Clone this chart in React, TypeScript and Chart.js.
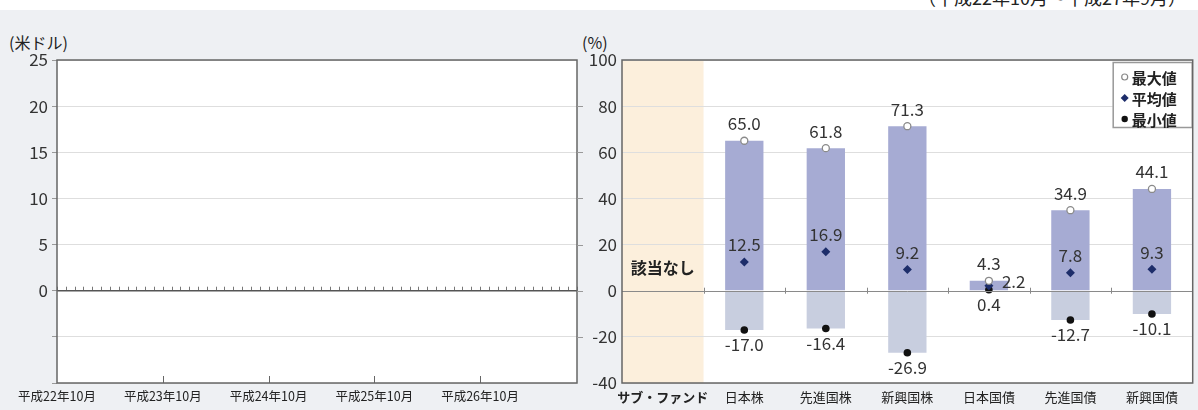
import React, { useEffect, useRef } from 'react';
import { Chart, registerables } from 'chart.js';
Chart.register(...registerables);

const FONT = '"Noto Sans CJK JP", "Noto Sans", sans-serif';

// ---- left chart (distribution, US$) ----
const leftStart = { year: 22, month: 10 };
const leftMonthCount = 60;
const leftTickLabels = ['平成22年10月', '平成23年10月', '平成24年10月', '平成25年10月', '平成26年10月'];
const leftMajorTickIdx = [12, 24, 36, 48];
const leftYMin = -10;
const leftYMax = 25;
const leftYStep = 5;

// ---- right chart (annual return range, %) ----
const categories = ['サブ・ファンド', '日本株', '先進国株', '新興国株', '日本国債', '先進国債', '新興国債'];
const maxVals: (number | null)[] = [null, 65.0, 61.8, 71.3, 4.3, 34.9, 44.1];
const avgVals: (number | null)[] = [null, 12.5, 16.9, 9.2, 2.2, 7.8, 9.3];
const minVals: (number | null)[] = [null, -17.0, -16.4, -26.9, 0.4, -12.7, -10.1];
const legendLabels = ['最大値', '平均値', '最小値'];
const noDataText = '該当なし';
const rightYMin = -40;
const rightYMax = 100;
const rightYStep = 20;

const periodText = '（平成22年10月～平成27年9月）';

function buildMonths(): string[] {
  const out: string[] = [];
  let y = leftStart.year;
  let m = leftStart.month;
  for (let i = 0; i < leftMonthCount; i++) {
    out.push(`平成${y}年${m}月`);
    m++;
    if (m > 12) { m = 1; y++; }
  }
  return out;
}

const COL_MAX_BORDER = '#8a8a8a';
const COL_AVG = '#1d2d6a';
const COL_MIN = '#111';

export default function App() {
  const leftRef = useRef<HTMLCanvasElement>(null);
  const rightRef = useRef<HTMLCanvasElement>(null);

  useEffect(() => {
    Chart.defaults.font.family = FONT;
    Chart.defaults.color = '#333';
    const months = buildMonths();

    const leftPlugin = {
      id: 'leftDeco',
      beforeDraw(chart: any) {
        const { ctx, chartArea: a } = chart;
        ctx.save();
        ctx.fillStyle = '#fff';
        ctx.fillRect(a.left, a.top, a.right - a.left, a.bottom - a.top);
        ctx.restore();
      },
      afterDraw(chart: any) {
        const { ctx, chartArea: a, scales } = chart;
        const x = scales.x, y = scales.y;
        ctx.save();
        const y0 = y.getPixelForValue(0);
        ctx.strokeStyle = '#777';
        ctx.lineWidth = 1;
        for (let i = 0; i < months.length; i++) {
          const px = Math.round(x.getPixelForValue(i)) + 0.5;
          ctx.beginPath();
          ctx.moveTo(px, y0 - 4);
          ctx.lineTo(px, y0);
          ctx.stroke();
        }
        ctx.strokeStyle = '#666';
        leftMajorTickIdx.forEach((i) => {
          const px = Math.round(x.getPixelForValue(i)) + 0.5;
          ctx.beginPath();
          ctx.moveTo(px, a.bottom);
          ctx.lineTo(px, a.bottom - 7);
          ctx.stroke();
        });
        ctx.strokeStyle = '#555';
        ctx.lineWidth = 1.5;
        ctx.beginPath();
        ctx.moveTo(a.left, y0);
        ctx.lineTo(a.right, y0);
        ctx.stroke();
        ctx.strokeStyle = '#666';
        ctx.lineWidth = 1.5;
        ctx.strokeRect(a.left, a.top, a.right - a.left, a.bottom - a.top);
        ctx.restore();
      },
    };

    const lc = new Chart(leftRef.current!, {
      type: 'line',
      data: { labels: months, datasets: [{ data: [], label: '' }] },
      options: {
        animation: false,
        responsive: false,
        layout: { padding: { top: 50, right: 8, left: 0, bottom: 0 } },
        plugins: { legend: { display: false }, tooltip: { enabled: false } },
        scales: {
          x: {
            type: 'category',
            offset: false,
            grid: { display: false, drawTicks: false },
            border: { display: false },
            ticks: {
              autoSkip: false,
              maxRotation: 0,
              minRotation: 0,
              padding: 6,
              font: { size: 12.5 },
              color: '#222',
              callback: (_v: any, i: number) => (leftTickLabels.includes(months[i]) ? months[i] : ''),
            },
            afterFit: (s: any) => { s.height = 27; },
          },
          y: {
            min: leftYMin,
            max: leftYMax,
            border: { display: false },
            grid: {
              color: (c: any) => (c.tick && c.tick.value === 0 ? 'rgba(0,0,0,0)' : '#dedede'),
              tickLength: 5,
              tickColor: '#999',
            },
            ticks: {
              stepSize: leftYStep,
              padding: 4,
              font: { size: 17 },
              color: '#333',
              callback: (v: any) => (Number(v) >= 0 ? String(v) : ''),
            },
            afterFit: (s: any) => { s.width = 57; },
          },
        },
      },
      plugins: [leftPlugin],
    } as any);

    const fmt = (v: number) => v.toFixed(1);

    const rightPlugin = {
      id: 'rightDeco',
      beforeDraw(chart: any) {
        const { ctx, chartArea: a, scales } = chart;
        const x = scales.x;
        ctx.save();
        ctx.fillStyle = '#fff';
        ctx.fillRect(a.left, a.top, a.right - a.left, a.bottom - a.top);
        const x1 = (x.getPixelForValue(0) + x.getPixelForValue(1)) / 2;
        ctx.fillStyle = '#fcefdc';
        ctx.fillRect(a.left, a.top, x1 - a.left, a.bottom - a.top);
        ctx.restore();
      },
      beforeDatasetsDraw(chart: any) {
        const { ctx, scales } = chart;
        const x = scales.x, y = scales.y;
        const y0 = y.getPixelForValue(0);
        ctx.save();
        ctx.strokeStyle = '#888';
        ctx.lineWidth = 1;
        for (let i = 0; i < categories.length - 1; i++) {
          const px = Math.round((x.getPixelForValue(i) + x.getPixelForValue(i + 1)) / 2) + 0.5;
          ctx.beginPath();
          ctx.moveTo(px, y0 - 3);
          ctx.lineTo(px, y0 + 3);
          ctx.stroke();
        }
        ctx.strokeStyle = '#999';
        for (let v = rightYMin + rightYStep; v < rightYMax; v += rightYStep) {
          const py = Math.round(y.getPixelForValue(v)) + 0.5;
          ctx.beginPath();
          ctx.moveTo(0, py);
          ctx.lineTo(6, py);
          ctx.stroke();
        }
        ctx.restore();
      },
      afterDatasetsDraw(chart: any) {
        const { ctx, chartArea: a, scales } = chart;
        const x = scales.x, y = scales.y;
        ctx.save();
        ctx.font = `bold 16px ${FONT}`;
        ctx.fillStyle = '#222';
        ctx.textAlign = 'center';
        ctx.textBaseline = 'middle';
        ctx.fillText(noDataText, x.getPixelForValue(0), y.getPixelForValue(10));
        const mMax = chart.getDatasetMeta(0);
        const mAvg = chart.getDatasetMeta(1);
        const mMin = chart.getDatasetMeta(2);
        ctx.font = `17px ${FONT}`;
        ctx.fillStyle = '#333';
        categories.forEach((_c, i) => {
          const mx = maxVals[i], av = avgVals[i], mn = minVals[i];
          if (mx == null || av == null || mn == null) return;
          const pMax = mMax.data[i], pAvg = mAvg.data[i], pMin = mMin.data[i];
          ctx.textAlign = 'center';
          ctx.fillText(fmt(mx), pMax.x, pMax.y - 17);
          if (mx - mn < 10) {
            ctx.textAlign = 'left';
            ctx.fillText(fmt(av), pAvg.x + 13, pAvg.y - 4);
            ctx.textAlign = 'center';
          } else {
            ctx.fillText(fmt(av), pAvg.x, pAvg.y - 17);
          }
          ctx.fillText(fmt(mn), pMin.x, pMin.y + 15);
        });
        const y0 = Math.round(y.getPixelForValue(0)) + 0.5;
        ctx.strokeStyle = '#8a8a8a';
        ctx.lineWidth = 1;
        ctx.beginPath();
        ctx.moveTo(a.left, y0);
        ctx.lineTo(a.right, y0);
        ctx.stroke();
        // legend
        const bw = 80, bh = 66;
        const bx = a.right - bw, by = a.top + 2;
        ctx.fillStyle = '#fff';
        ctx.fillRect(bx, by, bw, bh);
        ctx.strokeStyle = '#999';
        ctx.lineWidth = 1.5;
        ctx.strokeRect(bx + 0.5, by + 0.5, bw - 1, bh - 1);
        ctx.font = `bold 15px ${FONT}`;
        ctx.textAlign = 'left';
        legendLabels.forEach((lab, k) => {
          const ly = by + 15 + k * 21;
          const mx = bx + 12;
          ctx.beginPath();
          if (k === 0) {
            ctx.arc(mx, ly, 3, 0, Math.PI * 2);
            ctx.fillStyle = '#fff';
            ctx.fill();
            ctx.strokeStyle = COL_MAX_BORDER;
            ctx.lineWidth = 1.2;
            ctx.stroke();
          } else if (k === 1) {
            ctx.moveTo(mx, ly - 4);
            ctx.lineTo(mx + 4, ly);
            ctx.lineTo(mx, ly + 4);
            ctx.lineTo(mx - 4, ly);
            ctx.closePath();
            ctx.fillStyle = COL_AVG;
            ctx.fill();
          } else {
            ctx.arc(mx, ly, 3.2, 0, Math.PI * 2);
            ctx.fillStyle = COL_MIN;
            ctx.fill();
          }
          ctx.fillStyle = '#222';
          ctx.fillText(lab, mx + 7, ly + 1);
        });
        ctx.strokeStyle = '#666';
        ctx.lineWidth = 1.5;
        ctx.strokeRect(a.left, a.top, a.right - a.left, a.bottom - a.top);
        ctx.restore();
      },
    };

    const posBars = maxVals.map((v) => (v == null ? null : [0, v]));
    const negBars = minVals.map((v) => (v == null || v >= 0 ? null : [v, 0]));

    const rc = new Chart(rightRef.current!, {
      type: 'bar',
      data: {
        labels: categories,
        datasets: [
          {
            type: 'line', label: legendLabels[0], data: maxVals, showLine: false,
            pointStyle: 'circle', pointRadius: 3.5, pointBackgroundColor: '#fff',
            pointBorderColor: COL_MAX_BORDER, pointBorderWidth: 1.3, order: 1,
          },
          {
            type: 'line', label: legendLabels[1], data: avgVals, showLine: false,
            pointStyle: 'rectRot', pointRadius: 4.5, pointBackgroundColor: COL_AVG,
            pointBorderColor: COL_AVG, pointBorderWidth: 0, order: 1,
          },
          {
            type: 'line', label: legendLabels[2], data: minVals, showLine: false,
            pointStyle: 'circle', pointRadius: 3.8, pointBackgroundColor: COL_MIN,
            pointBorderColor: COL_MIN, pointBorderWidth: 0, order: 1,
          },
          {
            type: 'bar', label: 'pos', data: posBars, backgroundColor: '#a6abd3',
            grouped: false, barPercentage: 0.47, categoryPercentage: 1, order: 2,
          },
          {
            type: 'bar', label: 'neg', data: negBars, backgroundColor: '#c8cedf',
            grouped: false, barPercentage: 0.47, categoryPercentage: 1, order: 2,
          },
        ],
      },
      options: {
        animation: false,
        responsive: false,
        layout: { padding: { top: 50, right: 1, left: 0, bottom: 0 } },
        plugins: { legend: { display: false }, tooltip: { enabled: false } },
        scales: {
          x: {
            type: 'category',
            grid: { display: false, drawTicks: false },
            border: { display: false },
            ticks: {
              autoSkip: false,
              maxRotation: 0,
              padding: 6,
              color: '#222',
              font: (c: any) => ({ size: 13, weight: c.index === 0 ? 'bold' : 'normal' }),
            },
            afterFit: (s: any) => { s.height = 27; },
          },
          y: {
            min: rightYMin,
            max: rightYMax,
            border: { display: false },
            grid: {
              color: (c: any) => (c.tick && c.tick.value === 0 ? 'rgba(0,0,0,0)' : '#dedede'),
              drawTicks: false,
            },
            ticks: {
              stepSize: rightYStep,
              padding: 5,
              font: { size: 17 },
              color: '#333',
            },
            afterFit: (s: any) => { s.width = 45; },
          },
        },
      },
      plugins: [rightPlugin],
    } as any);

    return () => { lc.destroy(); rc.destroy(); };
  }, []);

  return (
    <div style={{ position: 'fixed', left: 0, top: 0, width: 1198, height: 410, background: '#fff', overflow: 'hidden', fontFamily: FONT }}>
      <div style={{ position: 'absolute', left: 0, top: 0, width: 1198, height: 10, overflow: 'hidden' }}>
        <div style={{ position: 'absolute', left: 918, top: -16, fontSize: 18, whiteSpace: 'nowrap', color: '#222' }}>{periodText}</div>
      </div>
      <div style={{ position: 'absolute', left: 0, top: 10, width: 1198, height: 400, background: '#eef0f3' }} />
      <div style={{ position: 'absolute', left: 9, top: 30, fontSize: 16, color: '#222', whiteSpace: 'nowrap' }}>(米ドル)</div>
      <div style={{ position: 'absolute', left: 582, top: 30, fontSize: 16, color: '#222', whiteSpace: 'nowrap' }}>(%)</div>
      <canvas ref={leftRef} width={585} height={400} style={{ position: 'absolute', left: 0, top: 10, width: 585, height: 400 }} />
      <canvas ref={rightRef} width={621} height={400} style={{ position: 'absolute', left: 577, top: 10, width: 621, height: 400 }} />
    </div>
  );
}
